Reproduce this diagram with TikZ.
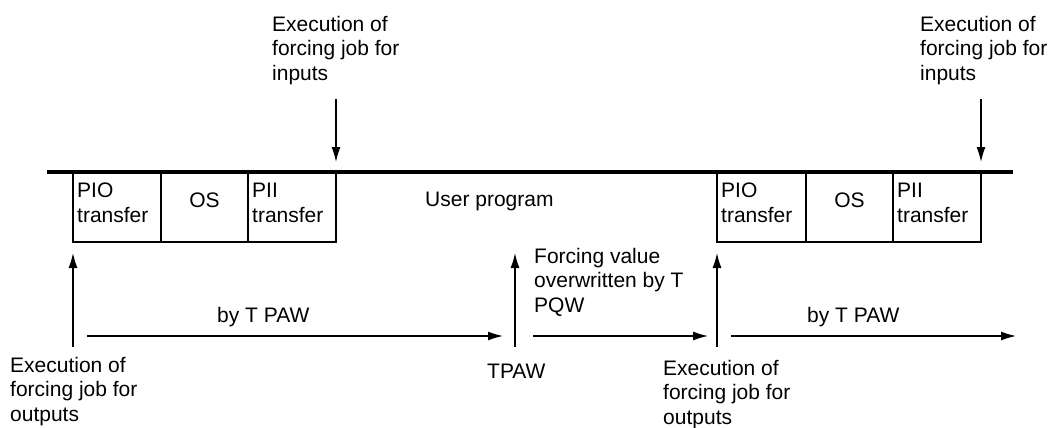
\documentclass[tikz,border=0pt]{standalone}
\usepackage{fontspec}
\setmainfont{Liberation Sans}
\usetikzlibrary{arrows.meta}
\begin{document}
\begin{tikzpicture}[x=1pt,y=-1pt,
  txt/.style={inner sep=0pt, font=\fontsize{21}{24.5}\selectfont, align=left},
  box/.style={draw, line width=1.3pt, minimum height=69pt, anchor=north west, inner sep=0pt, outer sep=0pt},
  arr/.style={line width=1.3pt, -{Latex[length=15pt,width=9pt]}}]
\useasboundingbox (0,0) rectangle (1060,428);
% time line
\coordinate (tl) at (47,172);
\coordinate (tr) at (1013,172);
\draw[line width=4pt] (tl) -- (tr);
% first cycle boxes
\node[box,minimum width=88pt] (pio1) at (73,173) {};
\node[box,minimum width=87pt] (os1) at (pio1.north east) {};
\node[box,minimum width=88pt] (pii1) at (os1.north east) {};
% second cycle boxes
\node[box,minimum width=89pt] (pio2) at (717,173) {};
\node[box,minimum width=87pt] (os2) at (pio2.north east) {};
\node[box,minimum width=88pt] (pii2) at (os2.north east) {};
% box texts
\node[txt,anchor=north west] (tpio1) at ([xshift=4pt,yshift=-10pt]pio1.north west) {PIO\\transfer};
\node[txt,anchor=base] (tos1) at (os1.center) {OS};
\node[txt,anchor=north west] (tpii1) at ([xshift=4pt,yshift=-10pt]pii1.north west) {PII\\transfer};
\node[txt,anchor=north west] (tpio2) at ([xshift=4pt,yshift=-10pt]pio2.north west) {PIO\\transfer};
\node[txt,anchor=base] (tos2) at (os2.center) {OS};
\node[txt,anchor=north west] (tpii2) at ([xshift=4pt,yshift=-10pt]pii2.north west) {PII\\transfer};
\node[txt,anchor=base west] (user) at (425,206) {User program};
% inputs forcing (top)
\node[txt,anchor=north west] (in1) at (272,15.7) {Execution of\\forcing job for\\inputs};
\node[txt,anchor=north west] (in2) at (920,15.7) {Execution of\\forcing job for\\inputs};
\coordinate (din1) at (pii1.north east |- 0,99);
\coordinate (din2) at (pii2.north east |- 0,99);
\draw[arr] (din1) -- ([yshift=11pt]pii1.north east);
\draw[arr] (din2) -- ([yshift=11pt]pii2.north east);
% up arrows
\coordinate (u1) at (pio1.south west |- 0,347);
\coordinate (u2) at (515,347);
\coordinate (u2t) at (515,253);
\coordinate (u3) at (pio2.south west |- 0,347);
\draw[arr] (u1) -- ([yshift=-11pt]pio1.south west);
\draw[arr] (u2) -- (u2t);
\draw[arr] (u3) -- ([yshift=-11pt]pio2.south west);
% horizontal arrows
\coordinate (h1a) at (87,336);
\coordinate (h1b) at (503,336);
\coordinate (h2a) at (533,336);
\coordinate (h2b) at (708,336);
\coordinate (h3a) at (731,336);
\coordinate (h3b) at (1016,336);
\draw[arr] (h1a) -- (h1b);
\draw[arr] (h2a) -- (h2b);
\draw[arr] (h3a) -- (h3b);
% labels
\node[txt,anchor=base west] (by1) at (217,322) {by T PAW};
\node[txt,anchor=base west] (by2) at (807,322) {by T PAW};
\node[txt,anchor=north west] (fv) at (534,247.7) {Forcing value\\overwritten by T\\PQW};
\node[txt,anchor=base west] (tpaw) at (487,378) {TPAW};
\node[txt,anchor=north west] (out1) at (10,356.7) {Execution of\\forcing job for\\outputs};
\node[txt,anchor=north west] (out2) at (663,359.7) {Execution of\\forcing job for\\outputs};
\end{tikzpicture}
\end{document}
